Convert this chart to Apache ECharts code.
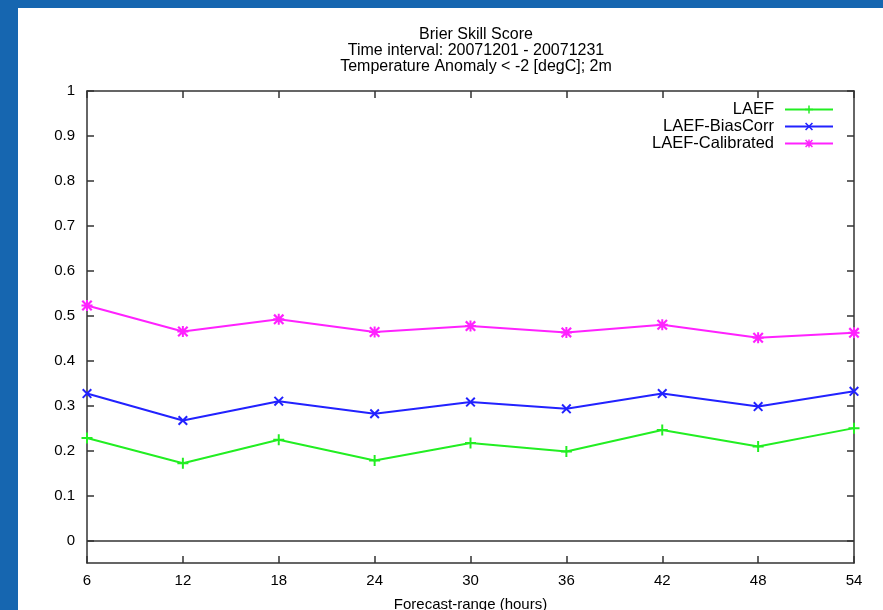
<!DOCTYPE html>
<html>
<head>
<meta charset="utf-8">
<script src="https://cdn.jsdelivr.net/npm/echarts@6/dist/echarts.min.js"></script>
<style>
  html, body { margin: 0; padding: 0; background: #1666b0; }
  #chart { width: 883px; height: 610px; }
</style>
</head>
<body>
<div id="chart"></div>
<script>
// forecast range (hours)
const hours = [6, 12, 18, 24, 30, 36, 42, 48, 54];
const laef = [0.228, 0.172, 0.224, 0.178, 0.217, 0.198, 0.246, 0.209, 0.250];
const laefBiasCorr = [0.327, 0.267, 0.310, 0.282, 0.308, 0.293, 0.327, 0.298, 0.332];
const laefCalibrated = [0.523, 0.465, 0.492, 0.464, 0.477, 0.463, 0.480, 0.451, 0.462];
const yTicks = [0, 0.1, 0.2, 0.3, 0.4, 0.5, 0.6, 0.7, 0.8, 0.9, 1];

const toPairs = (vals) => hours.map((h, i) => [h, vals[i]]);

// gnuplot-ish point types
const plusPath = "path://M4.1,0H5.9V4.1H10V5.9H5.9V10H4.1V5.9H0V4.1H4.1Z";
const crossPath = "path://M0,1.4L1.4,0L10,8.6L8.6,10ZM8.6,0L10,1.4L1.4,10L0,8.6Z";
const starPath = "path://M4.1,0H5.9V4.1H10V5.9H5.9V10H4.1V5.9H0V4.1H4.1ZM0,1.4L1.4,0L10,8.6L8.6,10ZM8.6,0L10,1.4L1.4,10L0,8.6Z";

const axisColor = "#333";
const font = "Liberation Sans, Arial, sans-serif";

function makeSeries(name, vals, color, symbol, size) {
  return {
    name: name,
    type: "line",
    data: toPairs(vals),
    symbol: symbol,
    symbolSize: size,
    showAllSymbol: true,
    itemStyle: { color: color },
    lineStyle: { color: color, width: 2 },
    emphasis: { disabled: true },
    animation: false,
  };
}

let chart = echarts.init(document.getElementById("chart"));

let series = [
  makeSeries("LAEF", laef, "#22ee22", plusPath, 11),
  makeSeries("LAEF-BiasCorr", laefBiasCorr, "#2222ff", crossPath, 10),
  makeSeries("LAEF-Calibrated", laefCalibrated, "#ff22ff", starPath, 11),
];
// zero line
series[0].markLine = {
  silent: true,
  symbol: "none",
  label: { show: false },
  lineStyle: { color: axisColor, width: 1.5, type: "solid" },
  data: [{ yAxis: 0 }],
};

let yCommon = {
  type: "value",
  min: -0.05,
  max: 1,
  axisLine: { show: true, lineStyle: { color: axisColor, width: 1.5 } },
  axisTick: { show: true, inside: true, length: 7, customValues: yTicks, lineStyle: { color: axisColor, width: 1.5 } },
  splitLine: { show: false },
};

let xCommon = {
  type: "value",
  min: 6,
  max: 54,
  interval: 6,
  axisLine: { show: true, onZero: false, lineStyle: { color: axisColor, width: 1.5 } },
  axisTick: { show: true, inside: true, length: 7, lineStyle: { color: axisColor, width: 1.5 } },
  splitLine: { show: false },
};

let option = {
  backgroundColor: "#1666b0",
  animation: false,
  graphic: [
    { type: "rect", left: 18, top: 8, shape: { width: 865, height: 602 }, style: { fill: "#fff" }, z: -10 },
  ],
  title: {
    text: "Brier Skill Score\nTime interval: 20071201 - 20071231\nTemperature Anomaly < -2 [degC]; 2m",
    left: 471,
    top: 22,
    textAlign: "center",
    textStyle: { fontFamily: font, fontSize: 16, fontWeight: "normal", color: "#000", lineHeight: 16 },
  },
  legend: {
    orient: "vertical",
    right: 44,
    top: 96,
    align: "right",
    itemWidth: 48,
    itemHeight: 10,
    itemGap: 0,
    selectedMode: false,
    textStyle: { fontFamily: font, fontSize: 16.5, lineHeight: 17, color: "#000", padding: [0, 6, 0, 0] },
    data: ["LAEF", "LAEF-BiasCorr", "LAEF-Calibrated"],
  },
  grid: { left: 87, top: 91, right: 29, bottom: 47, outerBoundsMode: "none", containLabel: false },
  xAxis: [
    Object.assign({}, xCommon, {
      position: "bottom",
      name: "Forecast-range (hours)",
      nameLocation: "middle",
      nameGap: 34,
      nameTextStyle: { fontFamily: font, fontSize: 15, color: "#000" },
      axisLabel: { color: "#000", fontFamily: font, fontSize: 15, margin: 10 },
    }),
    Object.assign({}, xCommon, { position: "top", axisLabel: { show: false } }),
  ],
  yAxis: [
    Object.assign({}, yCommon, {
      position: "left",
      axisLabel: { color: "#000", fontFamily: font, fontSize: 15, margin: 12, customValues: yTicks },
    }),
    Object.assign({}, yCommon, { position: "right", axisLabel: { show: false } }),
  ],
  series: series,
};

chart.setOption(option);
</script>
</body>
</html>
